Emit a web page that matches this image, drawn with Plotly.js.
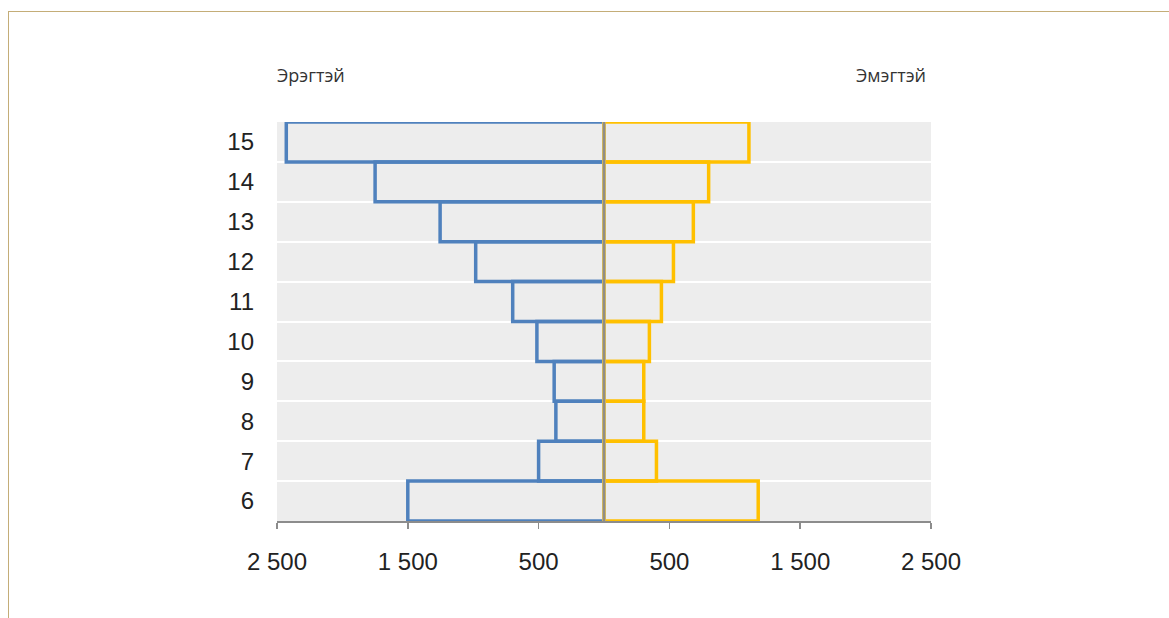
<!DOCTYPE html>
<html>
<head>
<meta charset="utf-8">
<script src="https://cdn.plot.ly/plotly-3.0.1.min.js"></script>
<style>
html,body{margin:0;padding:0;background:#fff;overflow:hidden;}
#frame{position:absolute;left:8px;top:11px;width:1300px;height:700px;border-top:1.5px solid #c4ad78;border-left:1.5px solid #c4ad78;}
#chart{position:absolute;left:0;top:0;width:1169px;height:618px;}
</style>
</head>
<body>
<div id="frame"></div>
<div id="chart"></div>
<script>
const ages = [6, 7, 8, 9, 10, 11, 12, 13, 14, 15];
const male = [1500, 500, 368, 381, 513, 698, 981, 1253, 1750, 2429];
const female = [1179, 401, 304, 304, 347, 439, 531, 683, 800, 1108];
const maleLabel = 'Эрэгтэй';
const femaleLabel = 'Эмэгтэй';
const tickVals = [-2500, -1500, -500, 500, 1500, 2500];
const tickText = ['2 500', '1 500', '500', '500', '1 500', '2 500'];

const boundaries = ages.slice(1).map((a, i) => (a + ages[i]) / 2);

const traces = [
  {
    type: 'bar', orientation: 'h', y: ages, x: male.map(v => -v), name: maleLabel,
    marker: {color: 'rgba(0,0,0,0)', line: {color: '#4f81bd', width: 3.5}},
    hoverinfo: 'skip'
  },
  {
    type: 'bar', orientation: 'h', y: ages, x: female, name: femaleLabel,
    marker: {color: 'rgba(0,0,0,0)', line: {color: '#ffc000', width: 3.5}},
    hoverinfo: 'skip'
  }
];

const layout = {
  width: 1169, height: 618,
  margin: {l: 277, r: 238, t: 122, b: 97},
  paper_bgcolor: 'rgba(0,0,0,0)',
  plot_bgcolor: '#ededed',
  barmode: 'overlay',
  bargap: 0,
  showlegend: false,
  font: {family: 'Liberation Sans, Arial, sans-serif', color: '#222'},
  xaxis: {
    range: [-2500, 2500],
    tickvals: tickVals, ticktext: tickText,
    ticks: 'outside', ticklen: 6, tickwidth: 1.5, tickcolor: '#8c8c8c',
    showline: true, linecolor: '#8c8c8c', linewidth: 2,
    showgrid: false, zeroline: false,
    tickfont: {size: 24, color: '#222'},
    ticklabelstandoff: 12,
    fixedrange: true
  },
  yaxis: {
    range: [ages[0] - 0.5, ages[ages.length - 1] + 0.5],
    tickvals: ages, ticktext: ages.map(String),
    showgrid: false, zeroline: false, showline: false,
    ticks: '',
    tickfont: {size: 24, color: '#222'},
    ticklabelstandoff: 22,
    minor: {tickvals: boundaries, showgrid: true, gridcolor: '#ffffff', gridwidth: 2, ticks: ''},
    fixedrange: true
  },
  shapes: [
    {type: 'line', xref: 'x', yref: 'paper', x0: 0, x1: 0, y0: 0, y1: 1,
     line: {color: '#c9b36f', width: 3.5}},
    {type: 'line', xref: 'x', yref: 'paper', x0: 0, x1: 0, y0: 0, y1: 1,
     line: {color: '#8a8a8a', width: 1.8}}
  ],
  annotations: [
    {text: maleLabel, xref: 'paper', yref: 'paper', x: 0, y: 1, xanchor: 'left', yanchor: 'middle',
     xshift: -2, yshift: 47, showarrow: false, font: {family: 'Open Sans, DejaVu Sans, sans-serif', size: 18, color: '#333'}},
    {text: femaleLabel, xref: 'paper', yref: 'paper', x: 1, y: 1, xanchor: 'right', yanchor: 'middle',
     xshift: -3, yshift: 47, showarrow: false, font: {family: 'Open Sans, DejaVu Sans, sans-serif', size: 18, color: '#333'}}
  ]
};

Plotly.newPlot('chart', traces, layout, {displayModeBar: false, staticPlot: true});
</script>
</body>
</html>
